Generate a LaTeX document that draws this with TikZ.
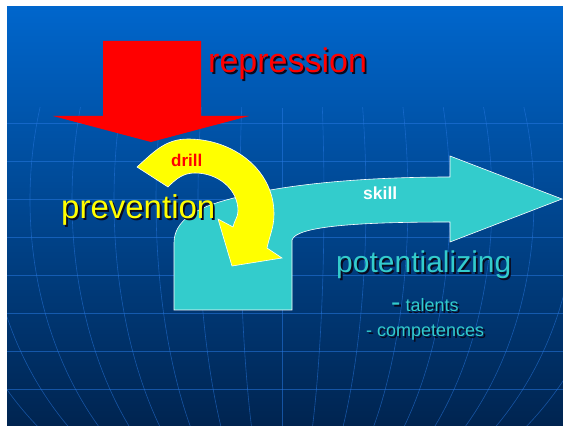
\documentclass[tikz,border=0pt]{standalone}
\usepackage{fontspec}
\setmainfont{Liberation Sans}
\usetikzlibrary{positioning}
\definecolor{bgtop}{RGB}{0,102,204}
\definecolor{bgbot}{RGB}{0,36,80}
\definecolor{gridcol}{RGB}{40,120,225}
\definecolor{skillcyan}{RGB}{51,204,204}
\definecolor{drillyellow}{RGB}{255,255,0}
\definecolor{dropcol}{RGB}{10,10,30}
% word with a drop shadow: name, x/y, size, colour, text
\newcommand{\shadowed}[5]{%
  \node[word,text=dropcol] at ([shift={(1.8,-1.8)}]#2) {\fontsize{#3}{#3}\selectfont #5};
  \node[word,text=#4] (#1) at (#2) {\fontsize{#3}{#3}\selectfont #5};}

\begin{document}
\begin{tikzpicture}[x=1pt,y=1pt,
  word/.style={anchor=base west,inner sep=0pt},
  gridline/.style={draw=gridcol,line width=0.6pt,opacity=0.55},
  outline/.style={draw=white,line width=0.6pt}]
  \useasboundingbox (0,0) rectangle (563,426);
  \fill[white] (0,0) rectangle (563,426);
  \shade[top color=bgtop,bottom color=bgbot] (7,0) rectangle (563,419);

  % globe grid
  \foreach \gy in {37,75,...,304}
    \draw[gridline] (7,\gy) -- (563,\gy);
  \begin{scope}
    \clip (7,0) rectangle (563,318);
    \draw[gridline] (282,0) -- (282,318);
    \foreach \ga in {42,84,...,336}
      \draw[gridline] (282,226) ellipse [x radius=\ga pt,y radius=330pt];
  \end{scope}

  % repression arrow
  \fill[red] (103,385) -- (201,385) -- (201,310) -- (249,310) -- (151,284)
    -- (53,310) -- (103,310) -- cycle;

  % skill arrow
  \fill[skillcyan,outline] (174,116) -- (174,183)
    .. controls (174,205) and (195,218) .. (230,227)
    .. controls (290,244) and (380,249) .. (450,249)
    -- (450,270) -- (562,227) -- (450,184) -- (450,204)
    .. controls (360,204) and (296,200) .. (292,186)
    -- (292,116) -- cycle;

  % drill arrow
  \fill[drillyellow,outline] (137,259) to[out=42,in=180] (188,287)
    to[out=0,in=90] (274,212) to[out=-90,in=78] (267,178)
    -- (282,168) -- (232,160) -- (218,207) -- (233,199)
    to[out=80,in=-90] (238,215) to[out=90,in=0] (195,253)
    to[out=180,in=45] (168,239) -- cycle;

  \shadowed{repr}{208,353}{34}{red}{repression}
  \shadowed{prev}{61,207}{33}{drillyellow}{prevention}
  \node[word,text=red] (drill) at (171,259) {\fontsize{17}{17}\selectfont\bfseries drill};
  \node[word,text=white] (skill) at (363,226) {\fontsize{17.5}{17.5}\selectfont\bfseries skill};
  \shadowed{pot}{336,153}{30}{skillcyan}{potentializing}
  \shadowed{tal}{391,114}{18}{skillcyan}{{\fontsize{28}{28}\selectfont -} talents}
  \shadowed{comp}{366,89}{18}{skillcyan}{- competences}
\end{tikzpicture}
\end{document}
